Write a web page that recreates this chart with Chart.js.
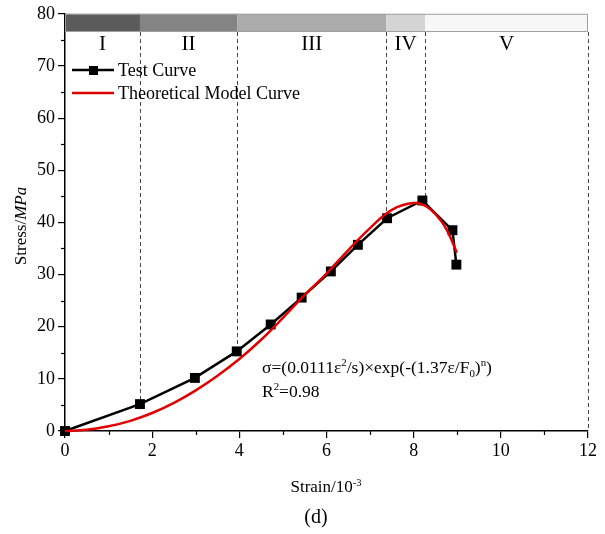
<!DOCTYPE html>
<html><head><meta charset="utf-8">
<script src="https://cdn.jsdelivr.net/npm/chart.js@4.4.0/dist/chart.umd.min.js"></script>
<style>html,body{margin:0;padding:0;background:#fff}#wrap{width:605px;height:534px;position:relative}</style>
</head><body><div id="wrap"><canvas id="c" width="605" height="534"></canvas></div>
<script>
// ---- data ----
const testStrain = [0, 1.72, 2.98, 3.94, 4.72, 5.43, 6.10, 6.72, 7.39, 8.20, 8.89, 8.98];
const testStress = [0, 5.16, 10.18, 15.27, 20.43, 25.58, 30.6, 35.7, 40.8, 44.2, 38.5, 31.9];
const modelStrain = [0, 0.5, 1.0, 1.5, 2.0, 2.5, 3.0, 3.5, 4.0, 4.5, 5.0, 5.5, 6.0, 6.5, 7.0, 7.5, 8.0, 8.3, 8.6, 8.8, 8.99];
const modelStress = [0, 0.22, 0.9, 1.95, 3.45, 5.4, 7.8, 10.6, 13.8, 17.5, 21.7, 26.1, 30.2, 34.7, 38.9, 42.4, 43.7, 43.0, 40.6, 37.9, 34.2];
const stageBounds = [0, 1.72, 3.95, 7.37, 8.26, 12];
const stageLabels = ['I', 'II', 'III', 'IV', 'V'];
const stageLineEnds = [5.16, 15.27, 40.8, 44.2, 0];
const bandTop = 80, bandBottom = 76.7;
const xTickMax = 12, xTickStep = 2, yTickMax = 80, yTickStep = 10;
const seriesLabels = ['Test Curve', 'Theoretical Model Curve'];

const stageColors = ['#5b5b5b', '#848484', '#ababab', '#d4d4d4', '#f7f7f7'];
const FONT = "'Liberation Serif', 'Times New Roman', serif";
Chart.defaults.font.family = FONT;
Chart.defaults.color = '#000';

function rich(ctx, parts, x, y, size, measureOnly) {
  let cx = x;
  for (const p of parts) {
    let s = size, dy = 0;
    if (p.sup) { s = size * 0.62; dy = -size * 0.38; }
    if (p.sub) { s = size * 0.62; dy = size * 0.2; }
    ctx.font = (p.italic ? 'italic ' : '') + s + 'px ' + FONT;
    if (!measureOnly) ctx.fillText(p.t, cx, y + dy);
    cx += ctx.measureText(p.t).width;
  }
  return cx - x;
}

const decor = {
  id: 'decor',
  beforeDatasetsDraw(chart) {
    const { ctx, scales: { x, y } } = chart;
    const t = y.getPixelForValue(bandTop), b = y.getPixelForValue(bandBottom);
    ctx.save();
    for (let i = 0; i < stageLabels.length; i++) {
      const x0 = x.getPixelForValue(stageBounds[i]), x1 = x.getPixelForValue(stageBounds[i + 1]);
      ctx.fillStyle = stageColors[i];
      ctx.fillRect(x0, t, x1 - x0, b - t);
    }
    ctx.strokeStyle = '#a0a0a0'; ctx.lineWidth = 1;
    const xl = x.getPixelForValue(stageBounds[0]), xr = x.getPixelForValue(stageBounds[stageBounds.length - 1]);
    ctx.strokeRect(xl + 0.5, t + 0.5, xr - xl - 1, b - t);
    // dashed boundaries
    ctx.strokeStyle = '#444'; ctx.lineWidth = 1; ctx.setLineDash([4, 3]);
    for (let i = 1; i < stageBounds.length; i++) {
      const px = Math.round(x.getPixelForValue(stageBounds[i])) + 0.5;
      ctx.beginPath(); ctx.moveTo(px, b + 1); ctx.lineTo(px, y.getPixelForValue(stageLineEnds[i - 1])); ctx.stroke();
    }
    ctx.setLineDash([]);
    // roman labels
    ctx.fillStyle = '#000'; ctx.font = '21px ' + FONT; ctx.textAlign = 'center'; ctx.textBaseline = 'alphabetic';
    for (let i = 0; i < stageLabels.length; i++) {
      const cx = (x.getPixelForValue(stageBounds[i]) + x.getPixelForValue(stageBounds[i + 1])) / 2;
      ctx.fillText(stageLabels[i], cx, 50);
    }
    ctx.restore();
  },
  afterDraw(chart) {
    const { ctx, scales: { x, y } } = chart;
    ctx.save();
    ctx.strokeStyle = '#000'; ctx.lineWidth = 1.2;
    // minor ticks
    for (let v = 5; v < yTickMax; v += yTickStep) {
      const py = Math.round(y.getPixelForValue(v)) + 0.5;
      ctx.beginPath(); ctx.moveTo(x.left - 4, py); ctx.lineTo(x.left, py); ctx.stroke();
    }
    for (let v = 1; v < xTickMax; v += xTickStep) {
      const px = Math.round(x.getPixelForValue(v)) + 0.5;
      ctx.beginPath(); ctx.moveTo(px, y.bottom); ctx.lineTo(px, y.bottom + 4); ctx.stroke();
    }
    // legend
    ctx.lineWidth = 2.5; ctx.strokeStyle = '#000';
    ctx.beginPath(); ctx.moveTo(72, 70); ctx.lineTo(114, 70); ctx.stroke();
    ctx.fillStyle = '#000'; ctx.fillRect(89, 66, 9, 9);
    ctx.strokeStyle = '#e00000'; ctx.lineWidth = 2.5;
    ctx.beginPath(); ctx.moveTo(72, 93); ctx.lineTo(114, 93); ctx.stroke();
    ctx.fillStyle = '#000'; ctx.textAlign = 'left'; ctx.textBaseline = 'alphabetic';
    ctx.font = '18px ' + FONT;
    ctx.fillText(seriesLabels[0], 118, 76);
    ctx.fillText(seriesLabels[1], 118, 99);
    // equation
    rich(ctx, [{ t: 'σ=(0.0111ε' }, { t: '2', sup: true }, { t: '/s)×exp(-(1.37ε/F' }, { t: '0', sub: true }, { t: ')' }, { t: 'n', sup: true }, { t: ')' }], 262, 373, 17.5);
    rich(ctx, [{ t: 'R' }, { t: '2', sup: true }, { t: '=0.98' }], 262, 397, 17.5);
    // x title
    const xt = [{ t: 'Strain/10' }, { t: '-3', sup: true }];
    const wx = rich(ctx, xt, 0, 0, 17, true);
    rich(ctx, xt, 326 - wx / 2, 492, 17);
    // (d)
    ctx.font = '20px ' + FONT; ctx.textAlign = 'center';
    ctx.fillText('(d)', 316, 523);
    ctx.textAlign = 'left';
    // y title
    const yt = [{ t: 'Stress/' }, { t: 'MPa', italic: true }];
    const wy = rich(ctx, yt, 0, 0, 17, true);
    ctx.translate(26, 226); ctx.rotate(-Math.PI / 2);
    rich(ctx, yt, -wy / 2, 0, 17);
    ctx.restore();
  }
};

new Chart(document.getElementById('c'), {
  type: 'scatter',
  data: {
    datasets: [
      {
        label: seriesLabels[0],
        data: testStrain.map((v, i) => ({ x: v, y: testStress[i] })),
        showLine: true, borderColor: '#000', borderWidth: 2.5,
        pointStyle: 'rect', pointRadius: 7, pointHoverRadius: 7,
        pointBackgroundColor: '#000', pointBorderColor: '#000', pointBorderWidth: 0,
        clip: false, order: 1
      },
      {
        label: seriesLabels[1],
        data: modelStrain.map((v, i) => ({ x: v, y: modelStress[i] })),
        showLine: true, borderColor: '#e00000', borderWidth: 2.5, pointRadius: 0,
        tension: 0.4, clip: false, order: 0
      }
    ]
  },
  options: {
    responsive: false, animation: false, devicePixelRatio: 1,
    layout: { padding: { top: 12, right: 17, left: 0, bottom: 0 } },
    plugins: { legend: { display: false }, tooltip: { enabled: false } },
    scales: {
      x: {
        type: 'linear', min: 0, max: xTickMax,
        ticks: { stepSize: xTickStep, font: { size: 18 }, padding: 2, color: '#000' },
        grid: { drawOnChartArea: false, tickLength: 7, color: '#000', lineWidth: 1.2 },
        border: { display: true, color: '#000', width: 1.5 },
        afterFit(s) { s.height = 103; }
      },
      y: {
        min: 0, max: yTickMax,
        ticks: { stepSize: yTickStep, font: { size: 18 }, padding: 3, color: '#000' },
        grid: { drawOnChartArea: false, tickLength: 7, color: '#000', lineWidth: 1.2 },
        border: { display: true, color: '#000', width: 1.5 },
        afterFit(s) { s.width = 65; }
      }
    }
  },
  plugins: [decor]
});
</script>
</body></html>
